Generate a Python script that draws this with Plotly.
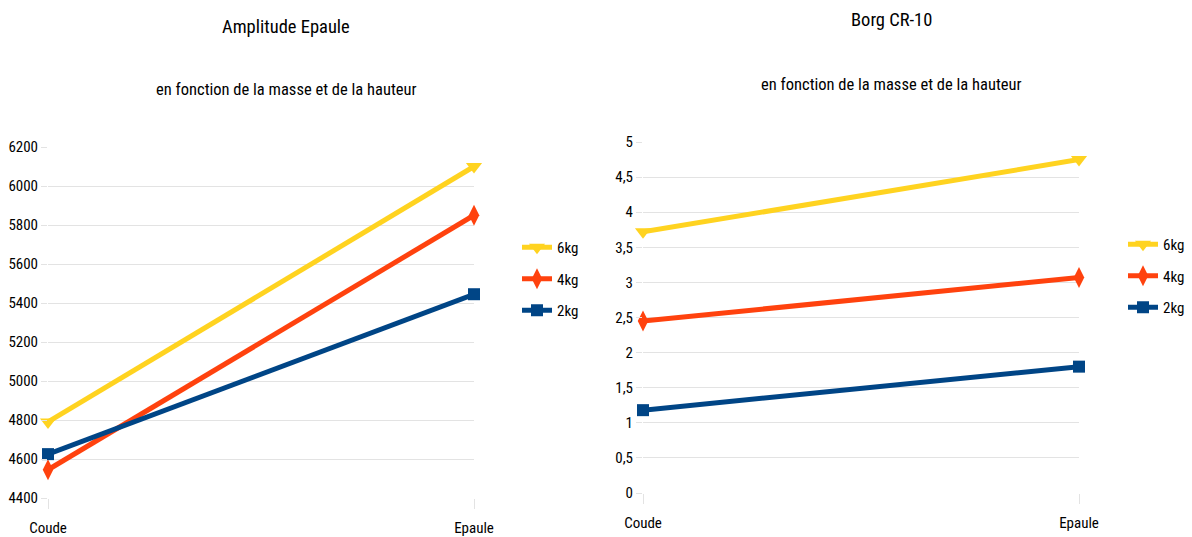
import plotly.graph_objects as go

FONT = "Roboto Condensed, Liberation Sans, Arial, sans-serif"

categories = ["Coude", "Epaule"]
series_names = ["6kg", "4kg", "2kg"]

# Amplitude Epaule
amplitude_6kg = [4790, 6100]
amplitude_4kg = [4545, 5850]
amplitude_2kg = [4625, 5445]

# Borg CR-10
borg_6kg = [3.72, 4.75]
borg_4kg = [2.45, 3.07]
borg_2kg = [1.18, 1.80]

colors = {"6kg": "#ffd320", "4kg": "#ff420e", "2kg": "#004586"}
symbols = {"6kg": "triangle-down", "4kg": "diamond-tall", "2kg": "square"}
sizes = {"6kg": 14, "4kg": 15, "2kg": 12}

amplitude = {"6kg": amplitude_6kg, "4kg": amplitude_4kg, "2kg": amplitude_2kg}
borg = {"6kg": borg_6kg, "4kg": borg_4kg, "2kg": borg_2kg}

fig = go.Figure()

for panel, data, xa, ya, leg in [(1, amplitude, "x", "y", "legend"),
                                 (2, borg, "x2", "y2", "legend2")]:
    for name in series_names:
        fig.add_trace(go.Scatter(
            x=categories, y=data[name], name=name,
            mode="lines+markers", xaxis=xa, yaxis=ya, legend=leg,
            legendgroup=f"{panel}-{name}",
            line=dict(color=colors[name], width=5),
            marker=dict(symbol=symbols[name], size=sizes[name], color=colors[name]),
            cliponaxis=False,
        ))

W, H = 1192, 537
grid = "#e3e3e3"

xcommon = dict(
    type="category", range=[0, 1], showgrid=True, gridcolor=grid, gridwidth=1,
    ticks="outside", ticklen=10, tickcolor=grid, showline=False, zeroline=False,
    automargin=False, ticklabelstandoff=6, tickfont=dict(size=15, color="#000"),
)
ycommon = dict(
    showgrid=True, gridcolor=grid, gridwidth=1, ticks="outside", ticklen=6,
    tickcolor=grid, showline=False, zeroline=False, automargin=False,
    tickfont=dict(size=15, color="#000"),
)

legend_common = dict(
    font=dict(size=15, color="#000", family=FONT), bgcolor="rgba(0,0,0,0)",
    xanchor="left", yanchor="middle", traceorder="grouped", itemwidth=30,
    tracegroupgap=9,
)


def title(text, x, y, size):
    return dict(text=text, x=x / W, y=1 - y / H, xref="paper", yref="paper",
                xanchor="center", yanchor="middle", showarrow=False,
                font=dict(size=size))


fig.update_layout(
    width=W, height=H,
    margin=dict(l=0, r=0, t=0, b=0, autoexpand=False),
    paper_bgcolor="white", plot_bgcolor="white",
    font=dict(family=FONT, color="#000"),
    separators=",.",
    showlegend=True,
    xaxis=dict(xcommon, domain=[48 / W, 474 / W], anchor="y"),
    yaxis=dict(ycommon, domain=[1 - 498 / H, 1 - 147 / H], range=[4400, 6200],
               dtick=200, anchor="x"),
    xaxis2=dict(xcommon, domain=[643 / W, 1079 / W], anchor="y2"),
    yaxis2=dict(ycommon, domain=[1 - 493 / H, 1 - 142 / H], range=[0, 5],
                dtick=0.5, anchor="x2"),
    legend=dict(legend_common, x=517 / W, y=1 - 279 / H),
    legend2=dict(legend_common, x=1123 / W, y=1 - 276 / H),
    annotations=[
        title("Amplitude Epaule", 286, 27, 18.5),
        title("en fonction de la masse et de la hauteur", 286, 89, 16.5),
        title("Borg CR-10", 891, 20, 18.5),
        title("en fonction de la masse et de la hauteur", 891, 84, 16.5),
    ],
)

fig.write_html("out.html", config={"displayModeBar": False},
               post_script="document.body.style.margin = '0';")
